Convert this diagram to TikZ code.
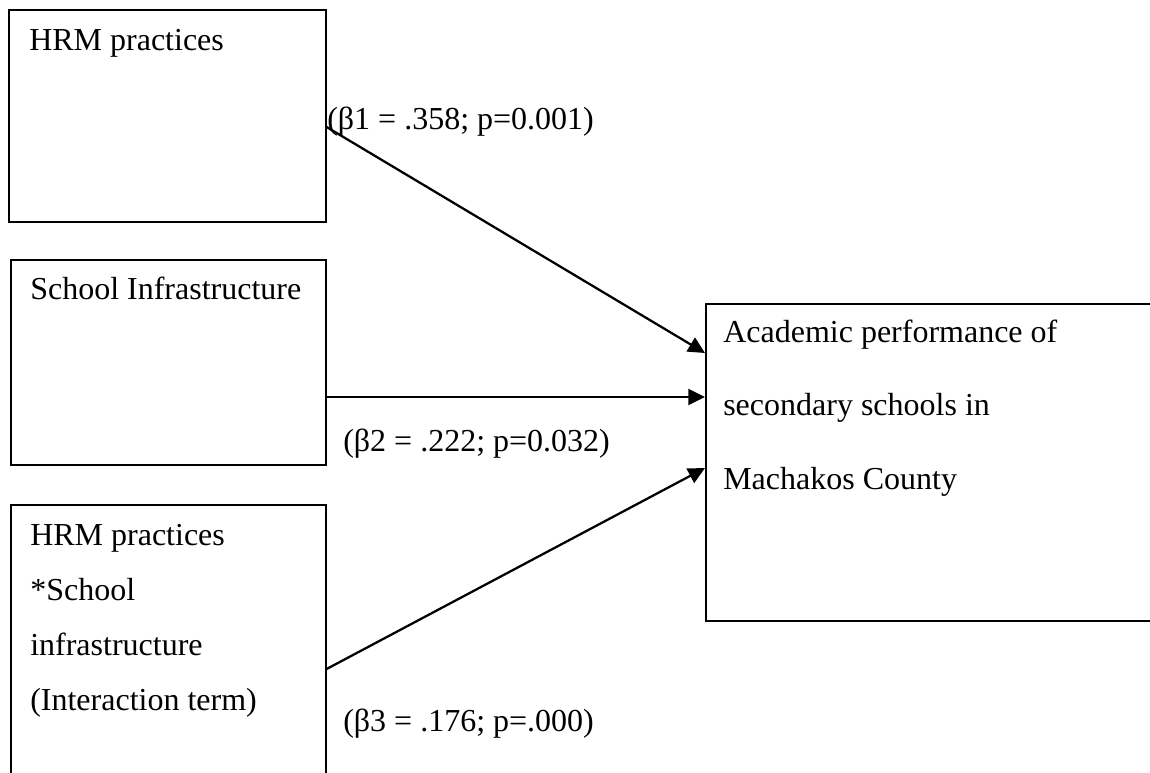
\documentclass[tikz,border=0pt]{standalone}
\usepackage{fontspec}
\setmainfont{Liberation Serif}
\usetikzlibrary{arrows.meta}
\begin{document}
\begin{tikzpicture}[x=0.75pt,y=-0.75pt,
  boxnode/.style={draw=black,line width=1.2pt,inner sep=0pt,anchor=north west},
  txt/.style={anchor=base west,inner sep=0pt,font=\fontsize{24}{28}\selectfont},
  arr/.style={line width=1.7pt,-{Triangle[length=12.5pt,width=12pt]}}]
\useasboundingbox (0,0) rectangle (1150,772);
\fill[white] (0,0) rectangle (1150,772);
\clip (0,0) rectangle (1150,772);
% boxes
\node[boxnode,minimum width=317*0.75pt,minimum height=212*0.75pt] (b1) at (8,9) {};
\node[boxnode,minimum width=315*0.75pt,minimum height=205*0.75pt] (b2) at (10,259) {};
\node[boxnode,minimum width=315*0.75pt,minimum height=320*0.75pt] (b3) at (10,504) {};
\node[boxnode,minimum width=480*0.75pt,minimum height=317*0.75pt] (out) at (705,303) {};
% box texts
\node[txt] (t1) at (29,50) {HRM practices};
\node[txt] (t2) at (30,299) {School Infrastructure};
\node[txt] (t3a) at (30,545) {HRM practices};
\node[txt] (t3b) at (30,600) {*School};
\node[txt] (t3c) at (30,655) {infrastructure};
\node[txt] (t3d) at (30,710) {(Interaction term)};
\node[txt] (o1) at (723,342) {Academic performance of};
\node[txt] (o2) at (723,415) {secondary schools in};
\node[txt] (o3) at (723,489) {Machakos County};
% connectors
\draw[arr] (b1.east |- 0,127) -- (out.west |- 0,353);
\draw[arr] (b2.east |- 0,397) -- (out.west |- 0,397);
\draw[arr] (b3.east |- 0,669) -- (out.west |- 0,468);
% labels
\node[txt] (l1) at (327,129) {(β1 = .358; p=0.001)};
\node[txt] (l2) at (343,451) {(β2 = .222; p=0.032)};
\node[txt] (l3) at (343,731) {(β3 = .176; p=.000)};
\end{tikzpicture}
\end{document}
